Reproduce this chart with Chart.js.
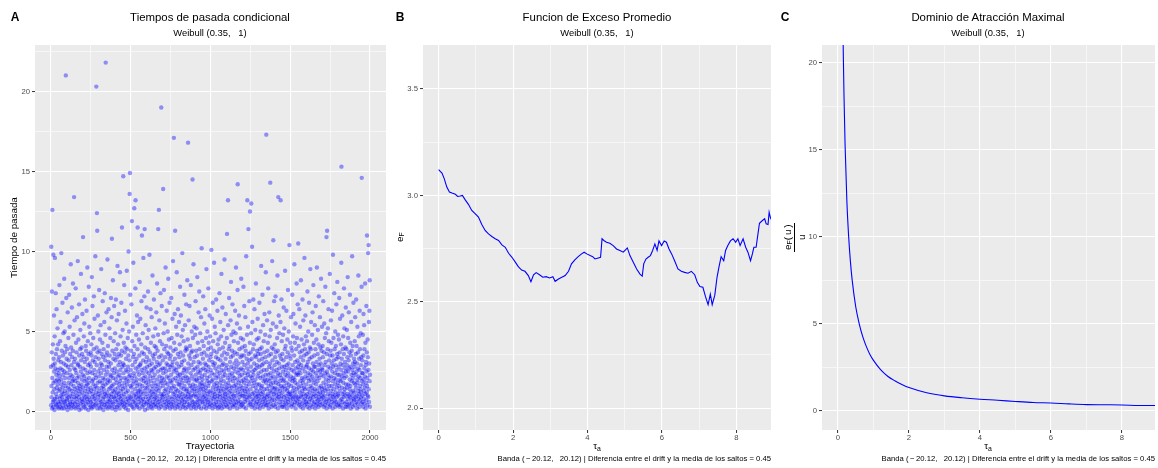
<!DOCTYPE html>
<html lang="es">
<head>
<meta charset="utf-8">
<title>Tiempos de pasada — Weibull (0.35, 1)</title>
<script src="https://cdn.jsdelivr.net/npm/chart.js@4.4.1/dist/chart.umd.min.js"></script>
<style>
  html, body { margin: 0; padding: 0; background: #ffffff; }
  body { position: relative; width: 1158px; height: 468px; overflow: hidden;
         font-family: "Liberation Sans", Arial, Helvetica, sans-serif; color: #000; }
  canvas { position: absolute; top: 0; }
  .t { position: absolute; white-space: nowrap; line-height: 1; }
  .c { transform: translate(-50%, -50%); }
  .r { transform: translate(-100%, -50%); }
  .tag { font-weight: bold; font-size: 12px; }
  .title { font-size: 11.4px; }
  .sub { font-size: 9.4px; }
  .axt { font-size: 9.8px; }
  .cap { font-size: 7.7px; }
  sub { font-size: 70%; vertical-align: -0.3em; line-height: 0; }
  /* caja vertical: texto de abajo hacia arriba */
  .vbox { position: absolute; display: flex; align-items: center; justify-content: center;
          writing-mode: vertical-rl; transform: rotate(180deg); white-space: nowrap; line-height: 1; }
  .frac { display: inline-flex; flex-direction: column; align-items: center; font-size: 9.8px; }
  .frac .num { border-block-end: 1px solid #000; padding-block-end: 2px; padding-inline: 2px; }
  .frac .den { padding-block-start: 2px; }
</style>
</head>
<body>
<canvas id="panelA" width="390" height="468" style="left:0px;width:390px;height:468px"></canvas>
<canvas id="panelB" width="385" height="468" style="left:390px;width:385px;height:468px"></canvas>
<canvas id="panelC" width="383" height="468" style="left:775px;width:383px;height:468px"></canvas>

<!-- Panel A -->
<div class="t c tag" style="left:15px;top:17px">A</div>
<div class="t c title" style="left:210px;top:18px">Tiempos de pasada condicional</div>
<div class="t c sub" style="left:210px;top:33px">Weibull (0.35,&nbsp;&nbsp; 1)</div>
<div class="t c axt" style="left:210px;top:446px">Trayectoria</div>
<div class="vbox axt" style="left:4px;width:20px;top:45px;height:385px">Tiempo de pasada</div>
<div class="t r cap" style="left:386px;top:459px">Banda (&thinsp;&minus;&thinsp;20.12,&nbsp;&nbsp; 20.12) | Diferencia entre el drift y la media de los saltos = 0.45</div>

<!-- Panel B -->
<div class="t c tag" style="left:400px;top:17px">B</div>
<div class="t c title" style="left:597px;top:18px">Funcion de Exceso Promedio</div>
<div class="t c sub" style="left:597px;top:33px">Weibull (0.35,&nbsp;&nbsp; 1)</div>
<div class="t c axt" style="left:597px;top:446px">&tau;<sub>a</sub></div>
<div class="vbox axt" style="left:390px;width:20px;top:45px;height:385px"><span>e<sub>F</sub></span></div>
<div class="t r cap" style="left:771px;top:459px">Banda (&thinsp;&minus;&thinsp;20.12,&nbsp;&nbsp; 20.12) | Diferencia entre el drift y la media de los saltos = 0.45</div>

<!-- Panel C -->
<div class="t c tag" style="left:785px;top:17px">C</div>
<div class="t c title" style="left:988px;top:18px">Dominio de Atracción Maximal</div>
<div class="t c sub" style="left:988px;top:33px">Weibull (0.35,&nbsp;&nbsp; 1)</div>
<div class="t c axt" style="left:988px;top:446px">&tau;<sub>a</sub></div>
<div class="vbox" style="left:780px;width:30px;top:45px;height:385px"><span class="frac"><span class="num">e<sub>F</sub>(&thinsp;u&thinsp;)</span><span class="den">u</span></span></div>
<div class="t r cap" style="left:1155px;top:459px">Banda (&thinsp;&minus;&thinsp;20.12,&nbsp;&nbsp; 20.12) | Diferencia entre el drift y la media de los saltos = 0.45</div>

<script>
// Tiempo de pasada de cada trayectoria (trayectoria = posición + 1), 2000 trayectorias
const tiempos = [
  2.8,0.4,10.3,1.6,0.9,3.7,7.5,0.2,2.1,12.6, 1.2,0.6,4.2,2.9,0.3,9.8,1.8,3.3,0.7,6.0, 2.5,1.4,0.1,4.7,3.0,9.6,0.8,1.9,2.7,0.5, 7.4,3.6,1.1,0.4,2.3,6.4,1.5,0.9,3.9,2.0, 0.3,5.2,1.7,2.6,0.6,4.2,3.2,1.3,0.2,2.4,
  1.9,3.4,0.5,7.9,2.2,0.8,1.4,4.4,0.3,2.7, 5.6,1.0,3.1,0.6,2.0,9.9,1.7,0.2,3.8,1.2, 0.9,2.6,6.8,1.5,0.4,3.5,2.3,0.7,4.9,1.1, 3.0,0.2,1.8,8.3,2.5,0.6,5.0,1.3,3.7,2.1, 0.5,4.1,1.6,21.0,2.9,0.3,7.1,1.0,3.3,0.8,
  2.4,0.7,3.9,1.2,0.1,6.2,2.8,1.5,0.4,4.6, 1.8,3.2,0.9,2.1,7.3,0.3,1.4,5.3,2.6,0.6, 3.6,1.0,0.5,2.3,9.2,1.7,4.0,0.2,2.9,1.3, 0.8,6.5,3.4,1.9,0.4,2.2,1.1,3.8,8.0,0.6, 2.0,4.8,1.6,0.3,3.1,13.4,2.7,0.9,5.7,1.4,
  0.5,3.3,1.9,2.6,0.2,7.7,1.2,4.3,0.8,2.4, 3.7,1.0,0.6,5.9,2.1,1.5,0.3,3.0,9.4,1.8, 2.9,0.4,4.5,1.3,0.9,2.2,6.7,3.5,0.1,1.6, 1.1,2.8,0.7,3.9,5.1,1.4,0.5,2.5,8.6,3.2, 0.2,1.7,4.0,2.0,0.8,3.6,1.2,6.1,0.6,2.3,
  1.5,10.9,2.7,0.4,3.4,1.0,4.7,0.7,2.2,5.5, 0.3,1.9,3.1,7.0,1.3,0.9,2.6,0.2,4.1,1.6, 3.8,0.5,2.0,6.3,1.1,3.3,0.8,1.7,9.0,2.4, 0.6,4.4,1.4,2.9,0.1,3.6,1.8,7.8,0.9,2.1, 5.3,1.2,0.4,3.0,2.5,0.7,4.9,1.5,3.7,0.3,
  2.8,0.6,1.3,4.2,3.5,0.2,8.4,1.9,2.4,0.9, 6.6,1.1,3.2,0.5,2.0,4.6,1.7,0.3,3.9,7.2, 1.4,2.6,0.8,5.8,3.1,1.0,0.4,2.3,9.7,1.6, 3.4,0.7,2.1,1.2,20.3,0.5,4.0,2.9,12.4,1.5, 11.3,0.2,3.7,1.8,6.0,0.9,2.5,5.0,1.1,3.3,
  0.4,2.2,7.6,1.3,3.8,0.7,1.9,4.5,0.2,2.7, 1.0,5.4,3.0,0.6,2.4,8.9,1.5,0.3,3.6,1.8, 2.9,0.5,4.3,1.2,6.9,2.1,0.8,3.4,1.6,0.1, 3.9,1.4,2.6,0.9,5.6,0.4,2.0,7.4,1.1,3.2, 0.6,4.8,1.7,21.8,2.3,0.3,3.5,1.0,6.2,2.8,
  1.2,3.7,0.5,2.5,9.5,1.8,0.2,4.1,2.0,0.8, 3.1,6.4,1.4,0.6,2.8,1.0,5.2,0.3,3.5,1.9, 0.7,2.3,4.6,1.5,0.4,3.0,7.1,2.2,1.1,0.9, 5.9,1.6,10.8,0.2,2.6,3.8,0.6,1.3,8.2,2.1, 0.5,3.3,1.7,4.4,0.9,2.4,6.6,1.2,0.3,3.6,
  2.7,0.8,4.9,1.4,3.2,0.1,2.0,7.0,1.0,3.9, 0.6,1.8,2.5,5.7,0.3,3.4,1.2,9.1,2.2,0.7, 4.2,1.5,0.4,2.9,6.1,1.1,3.6,0.9,2.3,1.7, 0.2,3.1,8.7,1.9,0.5,2.6,4.7,1.3,0.8,3.5, 2.1,6.8,1.0,0.6,3.8,11.5,1.6,2.8,0.4,5.1,
  1.4,3.0,0.7,14.7,2.4,1.1,4.3,0.3,2.9,7.9, 1.8,0.5,3.7,2.1,6.3,0.9,1.5,4.0,0.2,2.6, 3.3,1.2,0.6,5.5,2.0,8.8,1.7,0.4,3.9,2.5, 0.8,4.6,1.3,2.8,0.1,3.5,10.0,1.9,0.7,2.2, 5.0,1.0,3.2,13.6,0.5,14.9,2.3,7.3,1.6,0.9,
  2.6,0.4,3.8,1.5,6.7,0.8,2.1,11.9,1.2,4.4, 0.3,2.9,1.7,5.3,3.4,0.6,9.3,1.9,0.2,2.4, 3.6,1.0,12.7,4.1,2.2,0.7,1.4,3.1,0.5,7.7, 13.2,2.7,1.1,0.9,4.8,1.8,3.3,0.4,2.0,6.0, 1.6,0.3,3.9,11.5,2.5,1.2,5.6,0.8,2.8,1.3,
  0.6,4.5,2.3,1.0,3.5,0.2,8.1,1.7,2.9,0.9, 5.8,1.4,3.0,0.5,2.0,1.2,4.2,6.9,0.7,2.6, 11.0,3.7,1.6,0.3,2.4,4.9,1.1,0.8,3.2,9.6, 2.1,0.4,1.9,3.6,0.6,7.2,2.7,11.4,1.3,0.1, 4.0,2.2,1.5,5.4,0.9,3.1,1.8,0.5,2.5,6.5,
  1.1,3.4,0.6,2.8,4.6,1.5,0.2,2.0,7.5,3.9, 0.8,1.7,5.1,2.4,0.4,3.2,1.3,9.8,2.9,0.7, 3.7,1.0,2.2,0.5,6.4,1.9,4.3,0.3,2.6,1.2, 0.9,5.9,3.0,1.6,0.2,2.5,8.5,1.4,3.5,0.6, 2.1,4.7,1.1,0.4,3.3,7.0,2.7,1.8,0.8,4.1,
  2.3,0.5,3.6,1.2,5.2,0.9,2.8,1.6,0.3,4.0, 6.2,1.4,0.7,3.1,2.0,8.0,1.0,0.4,3.8,2.5, 1.7,4.8,11.4,0.6,2.9,1.3,12.6,3.4,0.2,5.7, 2.2,0.8,1.5,4.4,3.0,0.5,7.4,1.9,2.6,1.1, 0.3,19.0,3.5,1.8,6.6,0.7,2.1,4.2,1.0,2.7,
  0.9,3.2,1.6,13.9,2.4,0.4,4.9,1.1,7.6,2.0, 3.9,0.6,1.3,2.7,5.5,0.2,3.4,1.8,9.0,0.8, 2.5,1.4,4.1,0.5,3.0,6.3,1.0,2.2,0.3,3.7, 1.7,5.0,0.7,2.9,1.2,8.3,3.6,0.4,2.1,4.5, 0.6,2.6,1.5,6.8,3.3,0.9,1.9,0.2,4.0,2.8,
  3.5,1.3,0.5,2.3,7.1,1.8,4.6,0.8,2.9,0.3, 1.5,5.8,3.1,0.6,2.0,9.4,1.1,3.8,0.4,2.5, 17.1,1.6,4.3,0.9,2.7,6.1,1.2,3.3,11.3,0.2, 2.1,0.7,3.9,1.4,5.3,2.6,0.5,1.0,8.7,3.0, 1.9,4.8,0.3,2.4,1.3,3.6,6.4,0.8,2.2,1.7,
  0.4,2.8,5.6,1.0,3.4,1.7,0.6,4.2,2.3,7.8, 1.2,0.2,3.7,2.0,6.0,0.9,1.5,2.9,4.7,0.5, 3.1,1.8,0.7,9.9,2.4,1.1,5.1,0.3,3.5,2.1, 0.8,4.4,1.4,2.6,0.4,3.2,7.3,1.6,0.6,2.7, 5.4,1.0,3.8,0.2,2.2,1.9,4.0,6.7,1.3,0.9,
  2.5,0.6,3.9,1.4,8.2,2.1,0.3,4.5,1.1,16.8, 3.0,0.8,1.8,5.7,2.7,0.4,3.5,1.2,6.6,2.0, 0.5,4.1,1.6,3.3,0.9,2.4,7.9,1.0,0.2,3.7, 2.9,1.5,5.0,0.7,2.2,3.8,1.3,14.5,0.4,4.6, 1.7,0.6,2.6,9.2,3.1,1.0,0.3,2.0,5.3,1.4,
  3.4,1.1,0.5,2.7,4.8,1.6,6.9,0.2,2.3,3.8, 0.9,2.0,5.2,1.3,0.6,3.5,1.9,8.4,2.8,0.4, 4.3,1.0,2.5,0.7,3.1,6.2,1.5,0.3,2.1,7.5, 1.2,3.9,0.8,2.4,1.7,4.9,0.5,3.0,1.4,2.6, 5.9,0.2,1.8,3.6,10.2,1.0,2.2,0.7,4.4,1.6,
  2.0,0.6,3.3,1.4,7.2,2.7,0.9,4.1,1.2,0.3, 3.7,5.5,1.7,2.3,0.5,3.0,1.0,6.4,2.6,0.8, 1.5,4.6,0.2,2.9,8.9,1.3,3.5,0.7,2.1,1.9, 5.0,0.4,2.5,1.1,3.9,0.6,7.7,1.6,2.8,4.3, 0.9,3.2,1.8,0.3,6.0,2.2,1.2,4.7,0.5,3.4,
  1.3,2.6,4.0,0.7,3.6,10.1,1.9,0.4,2.4,5.8, 1.0,3.1,0.2,2.0,6.8,1.5,4.4,0.8,2.9,1.2, 3.8,0.5,9.3,1.7,2.3,0.9,5.3,3.0,1.1,0.3, 2.7,4.9,1.4,0.6,3.4,7.0,2.1,1.8,0.4,3.7, 1.6,0.8,2.5,6.3,1.0,4.2,0.2,3.3,2.2,1.3,
  4.5,0.6,2.8,1.5,0.3,3.9,7.4,1.1,2.4,0.9, 1.8,5.6,3.2,0.4,2.0,1.3,4.7,0.7,8.6,2.6, 0.2,3.5,1.6,2.9,6.5,1.0,0.5,4.0,2.2,1.4, 3.0,0.8,5.1,1.9,2.5,0.3,3.7,9.5,1.2,0.6, 2.3,4.3,1.1,0.9,3.3,6.1,1.7,2.7,0.4,1.5,
  0.7,2.9,4.6,11.1,1.4,3.6,0.3,2.1,1.0,13.2, 5.4,1.8,0.5,2.6,3.9,1.2,7.1,0.8,2.3,4.1, 1.6,0.2,3.1,2.0,0.6,5.7,1.3,3.4,8.1,2.8, 0.9,4.8,1.5,2.4,0.4,3.8,1.1,6.7,2.2,0.7, 3.5,1.9,0.3,5.0,2.7,1.0,4.4,1.6,0.5,3.0,
  2.1,0.8,3.7,1.3,6.3,2.5,0.4,4.9,1.7,9.0, 1.0,3.2,0.6,2.8,1.5,5.5,0.2,3.6,2.0,7.6, 14.2,1.2,4.3,0.7,2.4,3.0,1.8,0.5,6.0,2.6, 1.4,3.9,0.9,2.2,5.2,1.1,0.3,3.4,1.6,4.6, 0.6,2.7,8.3,1.9,3.5,0.4,2.3,1.0,4.0,1.3,
  3.1,1.5,0.5,2.6,4.5,1.0,7.8,2.0,0.3,3.5, 1.8,6.6,2.9,0.8,1.3,4.1,0.6,2.4,5.9,1.1, 3.8,0.2,2.1,9.7,1.6,0.9,3.3,1.4,4.8,2.7, 13.2,0.7,1.9,3.0,2.3,5.3,1.2,11.4,0.4,3.6, 2.5,1.7,0.9,6.9,3.2,1.0,4.3,12.5,0.5,2.2,
  1.4,3.7,0.6,2.8,4.9,13.0,1.9,0.3,3.3,2.1, 10.3,1.1,5.6,0.8,2.5,1.6,3.9,0.4,7.0,2.3, 1.2,4.2,0.7,3.0,1.8,6.4,2.6,0.2,3.5,1.0, 5.1,2.0,0.5,1.5,8.0,3.4,0.9,2.7,1.3,4.5, 0.6,2.9,3.8,1.7,0.3,5.8,2.2,1.1,3.6,0.8,
  2.4,4.6,1.0,0.5,3.2,1.7,6.8,2.8,0.2,3.9, 1.3,0.7,2.1,5.0,3.6,1.5,0.4,9.1,2.5,1.1, 4.0,2.9,0.9,1.6,3.3,7.3,0.6,2.2,1.2,5.4, 0.3,3.0,1.9,4.4,2.6,0.8,1.4,3.7,6.1,0.5, 2.0,1.0,4.8,3.4,0.7,2.3,8.7,1.8,0.4,17.3,
  3.1,0.9,2.6,1.4,5.7,0.4,3.8,2.0,1.1,4.3, 0.6,7.7,2.3,1.6,0.2,3.5,1.0,2.8,6.2,1.9, 4.7,0.8,3.0,1.3,14.3,2.4,0.5,5.1,1.7,3.6, 2.1,0.3,1.2,4.0,2.7,0.7,9.4,1.5,3.2,0.9, 5.5,2.2,1.8,10.7,0.4,3.9,1.1,2.5,6.9,1.4,
  0.7,2.9,4.2,1.5,3.4,0.3,2.0,7.2,1.2,3.7, 1.8,0.5,5.3,2.6,1.0,3.1,0.8,4.6,2.2,8.5, 1.4,3.8,0.2,2.4,13.4,1.7,0.9,6.0,3.0,1.1, 2.7,4.9,0.6,1.9,3.5,1.3,0.4,2.3,5.6,13.2, 1.6,0.8,3.3,2.1,7.0,1.0,4.4,0.3,2.8,1.5,
  3.6,1.2,0.6,2.5,4.8,1.9,0.3,3.2,6.5,2.0, 0.9,1.6,5.2,2.8,0.4,3.9,1.4,8.8,2.3,0.7, 4.1,2.6,1.0,0.5,3.4,6.3,1.8,2.9,0.2,1.3, 2.2,4.5,0.8,3.7,1.5,7.6,0.6,2.4,1.1,3.0, 5.0,1.7,0.4,2.7,10.4,1.2,3.5,0.9,2.0,4.3,
  1.1,3.3,0.7,2.2,5.9,1.6,4.0,0.3,2.6,1.0, 3.8,0.5,7.3,1.9,2.9,1.3,0.8,4.7,2.1,6.1, 0.4,2.5,1.5,3.5,0.9,9.2,2.0,1.2,4.3,0.6, 3.1,1.8,5.5,0.2,2.7,1.0,3.9,2.3,0.7,8.0, 1.4,4.6,2.4,0.5,3.2,1.7,6.7,0.9,2.8,10.5,
  2.3,0.8,4.1,1.5,3.0,0.4,6.4,2.6,1.2,3.7, 0.6,5.3,1.9,2.4,0.3,3.4,8.2,1.0,2.9,1.6, 4.5,0.9,2.1,3.8,1.3,0.5,7.0,2.7,1.8,0.2, 3.2,5.7,1.1,2.0,0.7,4.2,1.5,3.5,9.6,0.4, 2.5,1.4,3.9,0.8,6.0,2.2,1.0,4.7,0.6,2.8,
  1.7,3.6,0.5,2.9,4.4,1.1,0.3,7.5,2.1,3.1, 0.9,2.4,5.0,1.4,3.7,0.6,1.9,6.8,2.7,0.2, 3.3,1.2,4.0,0.8,2.3,8.9,1.6,0.4,3.9,2.0, 5.6,1.0,2.6,3.4,0.7,1.5,4.8,2.2,0.3,6.2, 1.3,3.0,0.9,2.5,7.9,1.8,0.5,4.3,2.8,1.1,
  3.5,0.6,2.0,5.4,1.4,2.8,0.2,3.9,1.0,6.6, 2.4,1.7,0.4,4.5,3.1,0.8,9.0,1.3,2.2,0.5, 1.9,3.6,5.1,0.7,2.6,1.1,4.2,0.3,7.2,2.9, 0.9,2.1,1.5,3.3,0.6,5.9,2.5,1.2,4.0,0.4, 3.0,1.6,8.3,2.3,0.8,3.8,1.0,2.7,5.3,1.4,
  0.5,2.6,4.1,1.2,3.4,0.9,6.9,1.8,2.2,0.3, 3.7,1.5,5.5,0.7,2.9,1.0,4.6,2.4,0.4,7.8, 1.3,3.1,0.6,2.0,4.9,1.7,10.9,0.2,3.6,2.5, 11.3,0.8,1.4,3.9,2.3,5.2,0.5,1.1,2.8,6.4, 1.9,4.4,0.7,3.2,1.6,2.1,0.3,8.6,1.0,3.5,
  2.7,0.4,3.8,1.3,5.7,2.2,0.8,4.3,1.6,3.0, 0.6,6.3,2.5,1.1,3.5,0.2,1.9,9.8,2.8,0.9, 4.6,1.4,3.2,0.5,2.1,7.4,1.0,3.9,0.7,2.4, 1.7,5.0,0.3,2.9,1.2,4.1,2.0,0.6,6.7,3.3, 0.9,2.6,1.5,3.6,8.1,0.4,2.3,1.8,4.8,1.1,
  3.4,1.0,0.5,2.8,4.5,1.6,7.1,2.3,0.3,3.7, 1.3,5.8,2.0,0.7,3.0,1.9,0.4,4.2,2.6,9.3, 15.3,0.8,3.3,1.5,2.2,6.0,1.1,0.6,3.9,2.9, 0.2,4.7,1.8,2.4,0.9,3.6,7.7,1.2,2.1,5.2, 1.4,0.5,3.1,2.7,1.0,4.0,0.3,6.5,2.5,1.7,
  2.2,3.9,0.6,1.5,5.1,2.9,0.3,3.4,1.1,8.4, 0.8,2.5,4.6,1.7,0.4,3.2,6.2,1.0,2.7,0.5, 3.7,1.4,2.0,7.3,0.9,4.3,1.6,2.8,0.2,3.5, 1.2,5.6,0.7,2.3,3.8,1.9,0.5,9.7,2.6,1.0, 4.1,0.3,2.1,3.0,1.3,6.8,2.4,0.8,1.8,3.3,
  0.7,2.8,1.2,4.4,3.1,0.4,5.9,1.7,2.3,0.9, 3.6,1.5,7.0,0.6,2.5,4.1,1.0,3.0,0.2,2.0, 5.3,1.8,0.5,3.7,2.7,1.3,8.5,0.8,2.2,4.7, 1.1,3.3,0.3,2.6,6.3,1.6,3.9,0.7,2.1,1.4, 4.9,0.9,2.9,1.2,3.4,0.5,7.8,14.6,1.9,2.4,
  3.2,1.0,0.6,2.4,4.8,1.7,0.3,3.5,6.1,2.0, 1.3,0.8,5.4,2.7,3.9,0.5,1.5,2.2,8.0,1.1, 4.3,0.2,2.9,1.8,3.1,0.7,6.6,2.5,1.2,3.7, 11.0,1.6,0.4,2.1,4.5,1.0,3.4,9.9,0.9,2.6, 10.4,1.4,5.6,0.6,3.0,6.3,1.9,8.2,0.3,2.3
];

// Función de exceso promedio e_F(u) frente al umbral τa
const umbralB = [
  0,0.05,0.09,0.15,0.22,0.29,0.36,0.45,0.51,0.58, 0.64,0.71,0.80,0.89,0.98,1.07,1.16,1.25,1.34,1.43,
  1.52,1.61,1.70,1.79,1.88,1.97,2.06,2.14,2.23,2.32, 2.41,2.48,2.55,2.62,2.71,2.80,2.89,2.98,3.07,3.13,
  3.22,3.31,3.40,3.49,3.57,3.66,3.75,3.84,3.91,3.98, 4.07,4.14,4.20,4.29,4.35,4.37,4.39,4.44,4.51,4.60,
  4.69,4.78,4.87,4.96,5.02,5.07,5.14,5.23,5.32,5.41, 5.47,5.51,5.57,5.63,5.69,5.75,5.81,5.87,5.92,5.99,
  6.06,6.12,6.19,6.26,6.34,6.43,6.52,6.61,6.70,6.79, 6.88,6.95,7.02,7.10,7.17,7.24,7.30,7.35,7.42,7.48,
  7.53,7.59,7.66,7.71,7.77,7.84,7.91,7.98,8.04,8.10, 8.18,8.25,8.31,8.38,8.43,8.47,8.53,8.58,8.62,8.70,
  8.76,8.80,8.85,8.88,8.91,8.95
];
const excesoB = [
  3.121,3.112,3.105,3.079,3.039,3.016,3.011,3.005,2.995,2.997, 3.000,2.980,2.958,2.929,2.914,2.898,2.863,2.835,2.819,2.807,
  2.796,2.788,2.767,2.756,2.728,2.709,2.686,2.665,2.649,2.643, 2.623,2.594,2.627,2.637,2.627,2.615,2.618,2.612,2.618,2.596,
  2.607,2.615,2.623,2.643,2.678,2.697,2.712,2.725,2.733,2.725, 2.717,2.712,2.701,2.706,2.709,2.750,2.796,2.788,2.780,2.775,
  2.764,2.748,2.741,2.733,2.744,2.753,2.717,2.686,2.654,2.630, 2.620,2.678,2.701,2.709,2.717,2.741,2.772,2.741,2.786,2.764,
  2.786,2.780,2.748,2.725,2.693,2.654,2.643,2.638,2.634,2.643, 2.627,2.591,2.571,2.568,2.524,2.486,2.536,2.486,2.531,2.615,
  2.662,2.712,2.693,2.741,2.764,2.786,2.796,2.780,2.796,2.764, 2.796,2.756,2.733,2.693,2.725,2.756,2.756,2.819,2.869,2.882,
  2.890,2.866,2.863,2.921,2.898,2.882
];

// Cociente e_F(u)/u frente al umbral τa
const umbralC = [0.14,0.15,0.17,0.2,0.25,0.3,0.35,0.4,0.5,0.6, 0.7,0.8,0.9,1.0,1.2,1.4,1.6,1.8,2.0,2.5,
                 3.0,3.5,4.0,4.5,5.0,5.5,6.0,6.5,7.0,7.5, 8.0,8.5,8.95];
const cocienteC = [22.0,20.5,18.1,15.3,12.1,10.05,8.6,7.52,5.99,5.0, 4.26,3.70,3.25,2.91,2.38,2.0,1.74,1.53,1.35,1.05,
                   0.87,0.76,0.68,0.62,0.55,0.49,0.46,0.41,0.37,0.36, 0.35,0.32,0.32];

// Marcas de los ejes
const ticksTrayectoria = [0, 500, 1000, 1500, 2000];
const ticksTiempo = [0, 5, 10, 15, 20];
const ticksUmbral = [0, 2, 4, 6, 8];
const ticksExceso = [2.0, 2.5, 3.0, 3.5];
const ticksCociente = [0, 5, 10, 15, 20];

const FONT = '"Liberation Sans", Arial, Helvetica, sans-serif';
const PANEL_BG = '#EBEBEB';

// Fondo gris del área de dibujo
const panelBackground = {
  id: 'panelBackground',
  beforeDraw(chart) {
    const a = chart.chartArea, ctx = chart.ctx;
    ctx.save();
    ctx.fillStyle = PANEL_BG;
    ctx.fillRect(a.left, a.top, a.right - a.left, a.bottom - a.top);
    ctx.restore();
  }
};

// Eje con líneas principales y secundarias (a mitad de camino)
function gridScale({ position, min, max, majors, fmt, size }) {
  const step = majors[1] - majors[0];
  const all = [];
  for (let v = majors[0] - step; v <= majors[majors.length - 1] + step + 1e-9; v += step / 2) {
    const r = Math.round(v * 1000) / 1000;
    if (r >= min && r <= max) all.push(r);
  }
  const isMajor = v => majors.some(m => Math.abs(m - v) < 1e-9);
  const horizontal = position === 'bottom';
  return {
    type: 'linear', position, min, max,
    afterBuildTicks: s => { s.ticks = all.map(v => ({ value: v })); },
    afterFit: s => { if (horizontal) s.height = size; else s.width = size; },
    border: { display: false },
    grid: {
      color: '#FFFFFF',
      lineWidth: c => (c.tick && isMajor(c.tick.value)) ? 1.1 : 0.55,
      drawTicks: true,
      tickLength: 3,
      tickWidth: 1,
      tickColor: c => (c.tick && isMajor(c.tick.value)) ? '#333333' : 'rgba(0,0,0,0)'
    },
    ticks: {
      autoSkip: false, maxRotation: 0, minRotation: 0,
      padding: horizontal ? 0 : 2,
      color: '#4D4D4D',
      font: { family: FONT, size: 7.7 },
      callback: v => isMajor(v) ? fmt(v) : ''
    }
  };
}

function baseOptions(padding, xScale, yScale) {
  return {
    responsive: false,
    animation: false,
    devicePixelRatio: 1,
    events: [],
    layout: { padding },
    plugins: { legend: { display: false }, tooltip: { enabled: false }, title: { display: false } },
    scales: { x: xScale, y: yScale }
  };
}

// Panel A: dispersión de tiempos de pasada
new Chart(document.getElementById('panelA'), {
  type: 'scatter',
  data: {
    datasets: [{
      data: tiempos.map((t, i) => ({ x: i + 1, y: t })),
      backgroundColor: 'rgba(0,0,255,0.4)',
      borderWidth: 0,
      pointRadius: 2.2,
      pointHoverRadius: 2.2
    }]
  },
  options: baseOptions({ left: 0, right: 4, top: 45, bottom: 22 },
    gridScale({ position: 'bottom', min: -99, max: 2100, majors: ticksTrayectoria, fmt: v => String(v), size: 16 }),
    gridScale({ position: 'left', min: -1.15, max: 22.9, majors: ticksTiempo, fmt: v => String(v), size: 35 })),
  plugins: [panelBackground]
});

// Panel B: función de exceso promedio
new Chart(document.getElementById('panelB'), {
  type: 'scatter',
  data: {
    datasets: [{
      data: umbralB.map((u, i) => ({ x: u, y: excesoB[i] })),
      showLine: true,
      borderColor: '#0000FF',
      borderWidth: 1.1,
      pointRadius: 0,
      tension: 0
    }]
  },
  options: baseOptions({ left: 0, right: 4, top: 45, bottom: 22 },
    gridScale({ position: 'bottom', min: -0.42, max: 8.93, majors: ticksUmbral, fmt: v => String(v), size: 16 }),
    gridScale({ position: 'left', min: 1.897, max: 3.707, majors: ticksExceso, fmt: v => v.toFixed(1), size: 33 })),
  plugins: [panelBackground]
});

// Panel C: dominio de atracción maximal
new Chart(document.getElementById('panelC'), {
  type: 'scatter',
  data: {
    datasets: [{
      data: umbralC.map((u, i) => ({ x: u, y: cocienteC[i] })),
      showLine: true,
      borderColor: '#0000FF',
      borderWidth: 1.1,
      pointRadius: 0,
      cubicInterpolationMode: 'monotone'
    }]
  },
  options: baseOptions({ left: 0, right: 3, top: 45, bottom: 22 },
    gridScale({ position: 'bottom', min: -0.45, max: 8.93, majors: ticksUmbral, fmt: v => String(v), size: 16 }),
    gridScale({ position: 'left', min: -1.09, max: 21.03, majors: ticksCociente, fmt: v => String(v), size: 47 })),
  plugins: [panelBackground]
});
</script>
</body>
</html>
